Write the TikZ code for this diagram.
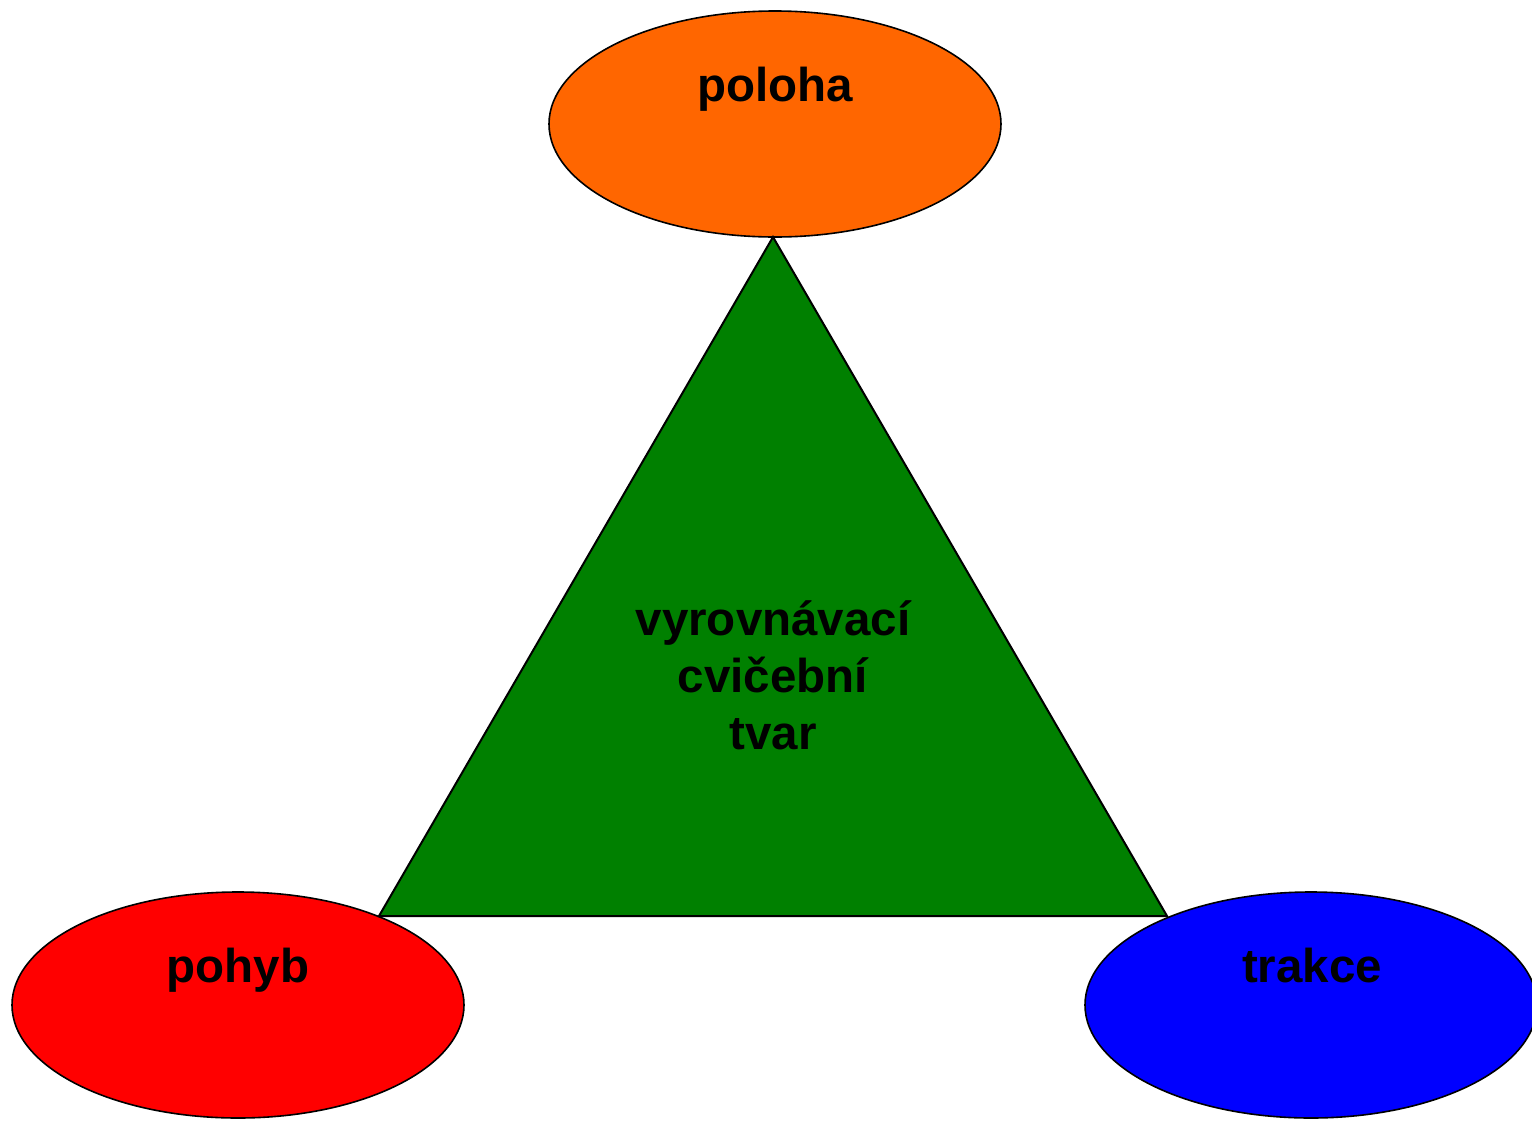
\documentclass[tikz,border=0pt]{standalone}
\usepackage{fontspec}
\setmainfont{Liberation Sans}
\usetikzlibrary{shapes.geometric}
\definecolor{cOrange}{HTML}{FF6600}
\definecolor{cGreen}{HTML}{008000}
\definecolor{cRed}{HTML}{FF0000}
\definecolor{cBlue}{HTML}{0000FF}
\tikzset{
  oval/.style={ellipse, draw=black, line width=1.6pt, minimum width=452pt, minimum height=226pt, inner sep=0pt},
  lbl/.style={font=\fontsize{47.5}{57}\selectfont\bfseries, anchor=base, inner sep=0pt, text=black},
}
\begin{document}
\begin{tikzpicture}[x=1pt,y=-1pt]
\useasboundingbox (0,0) rectangle (1532,1120);
% ellipses
\node[oval, fill=cOrange] (poloha) at (775,124) {};
\node[oval, fill=cRed] (pohyb) at (238,1005) {};
\node[oval, fill=cBlue] (trakce) at (1311,1005) {};
% triangle
\coordinate (apex) at (773,237);
\coordinate (bl) at (379,916);
\coordinate (br) at (1167,916);
\draw[fill=cGreen, line width=2pt, line join=miter] (apex) -- (bl) -- (br) -- cycle;
% labels
\node[lbl] (tpoloha) at (775,101.5) {poloha};
\node[lbl] (tpohyb) at (238,982) {pohyb};
\node[lbl] (ttrakce) at (1312,982) {trakce};
\node[lbl] (t1) at (773,635) {vyrovnávací};
\node[lbl] (t2) at (773,692) {cvičební};
\node[lbl] (t3) at (773,749) {tvar};
\end{tikzpicture}
\end{document}
